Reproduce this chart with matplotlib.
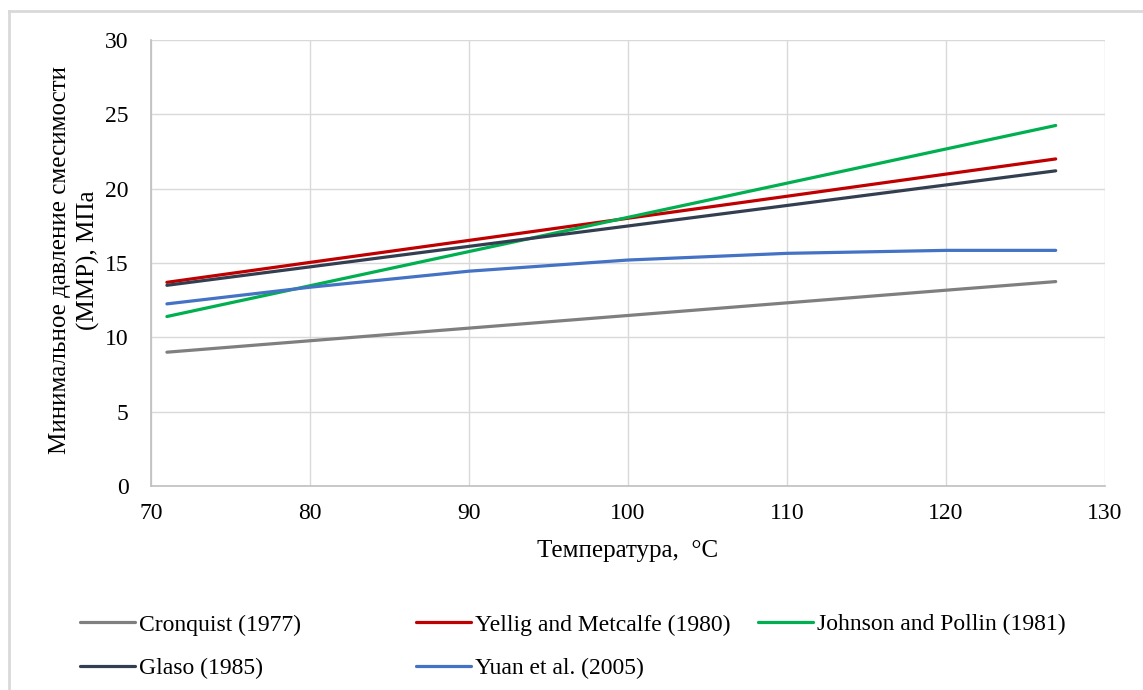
import numpy as np
import matplotlib.pyplot as plt
from matplotlib.lines import Line2D

plt.rcParams['font.family'] = ['Liberation Serif', 'DejaVu Serif']

# Temperature points, deg C
temps = [71.0, 80.0, 90.0, 100.0, 110.0, 120.0, 126.9]

# MMP correlations, MPa
cronquist = [9.0, 9.77, 10.62, 11.47, 12.32, 13.17, 13.75]
yellig = [13.7, 15.04, 16.52, 18.01, 19.49, 20.98, 22.0]
johnson = [11.4, 13.47, 15.77, 18.07, 20.37, 22.67, 24.25]
glaso = [13.5, 14.74, 16.12, 17.49, 18.87, 20.25, 21.2]
yuan = [12.25, 13.37, 14.45, 15.2, 15.65, 15.85, 15.85]

labels = ['Cronquist (1977)', 'Yellig and Metcalfe (1980)', 'Johnson and Pollin (1981)',
          'Glaso (1985)', 'Yuan et al. (2005)']
colors = ['#7f7f7f', '#c00000', '#00b050', '#333f50', '#4472c4']

W, H = 1143, 690
fig = plt.figure(figsize=(W / 100, H / 100), dpi=100)
ax = fig.add_axes([151 / W, 1 - 486 / H, (1105 - 151) / W, (486 - 40) / H])

series = [cronquist, yellig, johnson, glaso, yuan]
lines = []
for vals, lab, col in zip(series, labels, colors):
    ln, = ax.plot(temps, vals, color=col, lw=2.3, label=lab, solid_capstyle='round')
    lines.append(ln)

ax.set_xlim(70, 130)
ax.set_ylim(0, 30)
ax.set_xticks(np.arange(70, 131, 10))
ax.set_yticks(np.arange(0, 31, 5))
ax.grid(True, color='#d9d9d9', lw=1)
ax.set_axisbelow(True)
for side in ['top', 'right']:
    ax.spines[side].set_visible(False)
for side in ['left', 'bottom']:
    ax.spines[side].set_color('#bfbfbf')
    ax.spines[side].set_linewidth(1.2)
ax.tick_params(length=0, labelsize=17)
ax.tick_params(axis='x', pad=12)
ax.tick_params(axis='y', pad=16)

ax.set_xlabel('Температура,  °C', fontsize=18, labelpad=12)

# two-line y axis title
fig.text(60 / W, 1 - 260 / H, 'Минимальное давление смесимости', rotation=90,
         fontsize=18, ha='center', va='center')
fig.text(88 / W, 1 - 260 / H, '(ММР), МПа', rotation=90,
         fontsize=18, ha='center', va='center')

# legend laid out in three columns like the original
cols = [[0, 3], [1, 4], [2]]
xpos = [80, 416, 758]
for idx, x0 in zip(cols, xpos):
    fig.legend([lines[i] for i in idx], [labels[i] for i in idx],
               loc='upper left', bbox_to_anchor=(x0 / W, 1 - 614 / H),
               frameon=False, fontsize=17, handlelength=2.35, handletextpad=0.15,
               labelspacing=0.95, borderaxespad=0, borderpad=0)

# outer chart border (left and top edges visible)
fig.add_artist(Line2D([9 / W, 9 / W], [0, 1 - 11 / H], transform=fig.transFigure,
                      color='#d9d9d9', lw=2))
fig.add_artist(Line2D([9 / W, 1], [1 - 11 / H, 1 - 11 / H], transform=fig.transFigure,
                      color='#d9d9d9', lw=2))

fig.savefig('out.png', dpi=100)
